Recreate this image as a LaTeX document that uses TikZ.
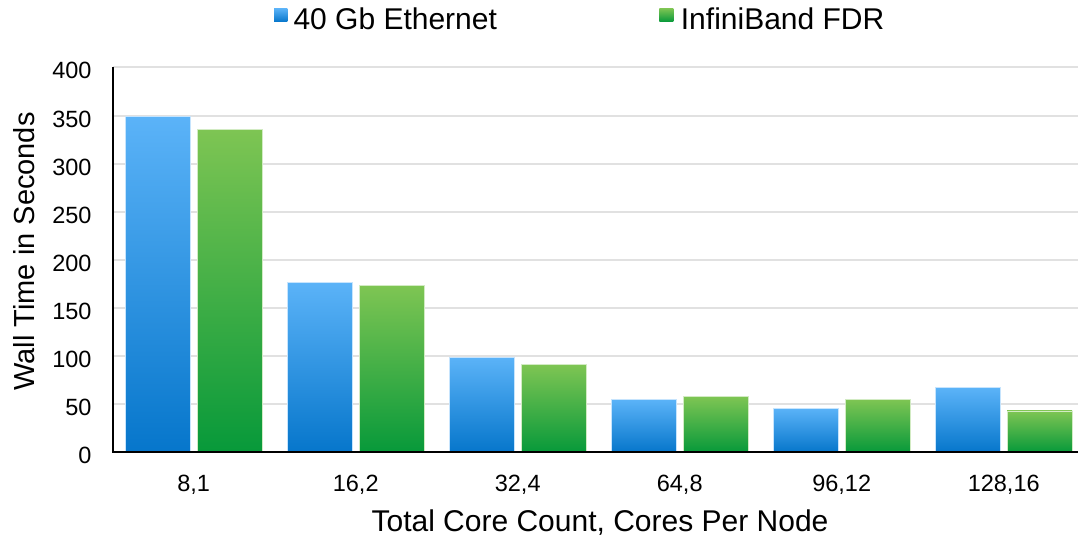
\documentclass[tikz,border=0pt]{standalone}
\usepackage{fontspec}
\setmainfont{Liberation Sans}
\usetikzlibrary{positioning}

\definecolor{ethtop}{HTML}{5BB3F8}
\definecolor{ethbot}{HTML}{0676CB}
\definecolor{ibtop}{HTML}{7EC553}
\definecolor{ibbot}{HTML}{07993A}
\definecolor{gridgray}{HTML}{E1E1E1}

\begin{document}
\begin{tikzpicture}[x=1pt,y=0.962pt,
  ethbar/.style={top color=ethtop,bottom color=ethbot,draw=ethtop!35,line width=0.8pt},
  ibbar/.style={top color=ibtop,bottom color=ibbot,draw=ibtop!35,line width=0.8pt},
  ticklab/.style={font=\fontsize{23.5}{24}\selectfont,inner sep=0pt},
  biglab/.style={font=\fontsize{30}{32}\selectfont,inner sep=0pt}]
  \useasboundingbox (-112.7pt,-93.7pt) rectangle (965.3pt,452.3pt);

  % Grid lines and value labels
  \foreach \v in {50,100,...,400} {
    \draw[gridgray,line width=2pt] (0,\v) -- (965,\v);
  }
  \foreach \v in {0,50,...,400} {
    \node[ticklab,anchor=east] (ytick\v) at (-21,\v-3.5) {\v};
  }

  % Bars: 40 Gb Ethernet and InfiniBand FDR
  \foreach \eth/\ib/\lab [count=\i from 0] in
      {349/336/{8,1},177/173/{16,2},99/91/{32,4},55/58/{64,8},46/55/{96,12},67/43/{128,16}} {
    \path[ethbar] (12.8+162*\i,0) rectangle ++(64.5,\eth);
    \path[ibbar]  (84.3+162*\i,0) rectangle ++(65,\ib);
    \node[ticklab] (xtick\i) at (81+162*\i,-33.5) {\lab};
  }

  % Axes
  \draw[line width=2pt] (0,400) -- (0,0) -- (965,0);

  % Axis titles
  \node[biglab,anchor=base] (xtitle) at (487.3,-82.5) {Total Core Count, Cores Per Node};
  \node[biglab,anchor=base,rotate=90,font=\fontsize{29}{31}\selectfont] (ytitle) at (-77.7,208.7) {Wall Time in Seconds};

  % Legend
  \path[top color=ethtop,bottom color=ethbot] (161.3,447.6) rectangle (174.6,461.5);
  \node[biglab,anchor=base west] (ethkey) at (180.6,439) {40 Gb Ethernet};
  \path[top color=ibtop,bottom color=ibbot] (546.6,447.6) rectangle (560.6,461.5);
  \node[biglab,anchor=base west] (ibkey) at (568,439) {InfiniBand FDR};
\end{tikzpicture}
\end{document}
